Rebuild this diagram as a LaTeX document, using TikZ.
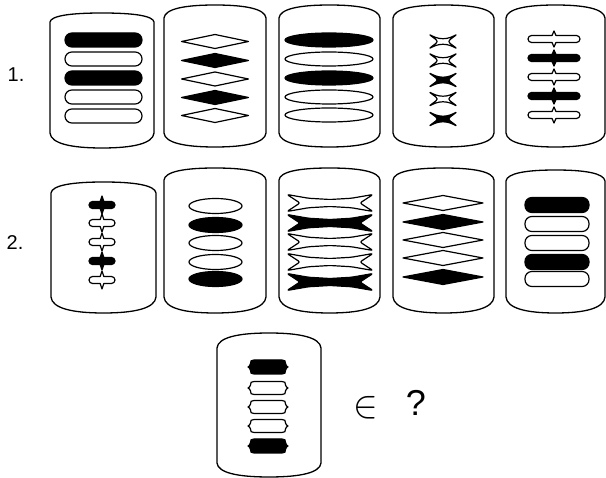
\documentclass[tikz,border=0pt]{standalone}
\usepackage{fontspec}
\setmainfont{Liberation Sans}
\tikzset{
  cardline/.style={draw=black, line width=1.3pt, fill=white},
  shp/.style={draw=black, line width=1.2pt, line join=round},
  lbl/.style={inner sep=0pt, font=\fontsize{20}{22}\selectfont}
}
% card: x1 x2 ytop ys1 ys2 ybot
\newcommand\card[6]{%
  \draw[cardline] (#1,#4) .. controls (#1+1,{#4-0.7*(#4-#3)}) and ({#1+0.2*(#2-#1)},#3) .. ({(#1+#2)/2},#3)
   .. controls ({#2-0.2*(#2-#1)},#3) and (#2-1,{#4-0.7*(#4-#3)}) .. (#2,#4)
   -- (#2,#5) .. controls (#2-1,{#5+0.7*(#6-#5)}) and ({#2-0.2*(#2-#1)},#6) .. ({(#1+#2)/2},#6)
   .. controls ({#1+0.2*(#2-#1)},#6) and (#1+1,{#5+0.7*(#6-#5)}) .. (#1,#5) -- cycle;}
% stadium: cx cy w h fill
\newcommand\stad[5]{%
  \draw[shp,fill=#5,rounded corners=6.9pt] ({#1-#3/2},{#2-#4/2}) rectangle ({#1+#3/2},{#2+#4/2});}
% diamond: cx cy w h fill
\newcommand\dia[5]{%
  \draw[shp,fill=#5] ({#1-#3/2},#2) -- (#1,{#2-#4/2}) -- ({#1+#3/2},#2) -- (#1,{#2+#4/2}) -- cycle;}
% ellipse: cx cy w h fill
\newcommand\ovl[5]{%
  \draw[shp,fill=#5] (#1,#2) ellipse [x radius={#3/2}, y radius={#4/2}];}
% X shape: cx cy w h t d fill radius
\newcommand\xsh[8]{%
  \draw[shp,fill=#7,rounded corners=#8pt] ({#1-#3/2},{#2-#4/2})
   -- ({#1-#3/4},{#2-#4/2+0.75*#5}) -- (#1,{#2-#4/2+#5}) -- ({#1+#3/4},{#2-#4/2+0.75*#5})
   -- ({#1+#3/2},{#2-#4/2}) -- ({#1+#3/2-#6},#2) -- ({#1+#3/2},{#2+#4/2})
   -- ({#1+#3/4},{#2+#4/2-0.75*#5}) -- (#1,{#2+#4/2-#5}) -- ({#1-#3/4},{#2+#4/2-0.75*#5})
   -- ({#1-#3/2},{#2+#4/2}) -- ({#1-#3/2+#6},#2) -- cycle;}
% bar with diamond: cx cy w h a H fill
\newcommand\bdia[7]{%
  \pgfmathsetmacro\rr{#4/2}%
  \pgfmathsetmacro\xl{#1-#3/2+\rr}%
  \pgfmathsetmacro\xr{#1+#3/2-\rr}%
  \pgfmathsetmacro\ap{#5*(1-\rr/#6)}%
  \draw[shp,fill=#7] (\xl,{#2-\rr}) -- ({#1-\ap},{#2-\rr}) -- (#1,{#2-#6}) -- ({#1+\ap},{#2-\rr}) -- (\xr,{#2-\rr})
   .. controls ({\xr+0.552*\rr},{#2-\rr}) and ({\xr+\rr},{#2-0.552*\rr}) .. ({\xr+\rr},#2)
   .. controls ({\xr+\rr},{#2+0.552*\rr}) and ({\xr+0.552*\rr},{#2+\rr}) .. (\xr,{#2+\rr})
   -- ({#1+\ap},{#2+\rr}) -- (#1,{#2+#6}) -- ({#1-\ap},{#2+\rr}) -- (\xl,{#2+\rr})
   .. controls ({\xl-0.552*\rr},{#2+\rr}) and ({\xl-\rr},{#2+0.552*\rr}) .. ({\xl-\rr},#2)
   .. controls ({\xl-\rr},{#2-0.552*\rr}) and ({\xl-0.552*\rr},{#2-\rr}) .. cycle;}
% plaque: cx cy w h fill
\newcommand\plq[5]{%
  \pgfmathsetmacro\xR{#1+#3/2}%
  \pgfmathsetmacro\xL{#1-#3/2}%
  \pgfmathsetmacro\bR{\xR-2.5}%
  \pgfmathsetmacro\bL{\xL+2.5}%
  \pgfmathsetmacro\tp{#2-#4/2}%
  \pgfmathsetmacro\bt{#2+#4/2}%
  \draw[shp,fill=#5] ({\xL+6},\tp) -- ({\xR-6},\tp)
   .. controls ({\bR-0.5},\tp) and (\bR,{\tp+1}) .. (\bR,{\tp+3.5})
   .. controls (\bR,{#2-1.5}) and ({\xR-0.8},{#2-0.4}) .. (\xR,#2)
   .. controls ({\xR-0.8},{#2+0.4}) and (\bR,{#2+1.5}) .. (\bR,{\bt-3.5})
   .. controls (\bR,{\bt-1}) and ({\bR-0.5},\bt) .. ({\xR-6},\bt)
   -- ({\xL+6},\bt)
   .. controls ({\bL+0.5},\bt) and (\bL,{\bt-1}) .. (\bL,{\bt-3.5})
   .. controls (\bL,{#2+1.5}) and ({\xL+0.8},{#2+0.4}) .. (\xL,#2)
   .. controls ({\xL+0.8},{#2-0.4}) and (\bL,{#2-1.5}) .. (\bL,{\tp+3.5})
   .. controls (\bL,{\tp+1}) and ({\bL+0.5},\tp) .. cycle;}
\begin{document}
\begin{tikzpicture}[x=1pt,y=-1pt]
\useasboundingbox (0,0) rectangle (606,478);
% ---------- row 1 ----------
\node[lbl] (l1) at (16,75) {1.};
\card{50}{154}{13}{22}{133}{148}
\stad{103.5}{40}{77}{14}{black}
\stad{103.5}{59}{77}{14}{white}
\stad{103.5}{78}{77}{14}{black}
\stad{103.5}{97}{77}{14}{white}
\stad{103.5}{116}{77}{14}{white}
\card{164}{266}{5}{18}{133}{147}
\dia{215}{41.5}{67}{14}{white}
\dia{215}{60.5}{67}{14}{black}
\dia{215}{79}{67}{14}{white}
\dia{215}{97.5}{67}{14}{black}
\dia{215}{115.5}{67}{14}{white}
\card{279}{380}{5}{18}{133}{147}
\ovl{329}{40}{88}{14}{black}
\ovl{329}{59}{88}{14}{white}
\ovl{329}{78}{88}{14}{black}
\ovl{329}{97}{88}{14}{white}
\ovl{329}{115}{88}{14}{white}
\card{393}{494}{5}{18}{133}{147}
\xsh{443}{41.5}{29}{15}{5}{10}{white}{3}
\xsh{443}{60.5}{29}{15}{5}{10}{white}{3}
\xsh{443}{80}{29}{15}{5}{10}{black}{3}
\xsh{443}{99}{29}{15}{5}{10}{white}{3}
\xsh{443}{119}{29}{15}{5}{10}{black}{3}
\card{506}{605}{5}{18}{133}{147}
\bdia{554}{39}{52}{7}{3.5}{8}{white}
\bdia{554}{58}{52}{7}{3.5}{8}{black}
\bdia{554}{77}{52}{7}{3.5}{8}{white}
\bdia{554}{96}{52}{7}{3.5}{8}{black}
\bdia{554}{115}{52}{7}{3.5}{8}{white}
% ---------- row 2 ----------
\node[lbl] (l2) at (15,243) {2.};
\card{51}{156}{182}{193}{297}{313}
\bdia{102}{205}{26}{7}{3}{9}{black}
\bdia{102}{223}{26}{7}{3}{9}{white}
\bdia{102}{242}{26}{7}{3}{9}{white}
\bdia{102}{261}{26}{7}{3}{9}{black}
\bdia{102}{280}{26}{7}{3}{9}{white}
\card{164}{266}{168}{180}{297}{313}
\ovl{215.5}{206}{53}{15}{white}
\ovl{215.5}{225}{53}{15}{black}
\ovl{215.5}{243}{53}{15}{white}
\ovl{215.5}{262}{53}{15}{white}
\ovl{215.5}{279}{53}{15}{black}
\card{279}{380}{168}{180}{297}{313}
\xsh{330}{203}{86}{17}{5}{13}{white}{2}
\xsh{330}{223}{86}{17}{5}{13}{black}{2}
\xsh{330}{242}{86}{17}{5}{13}{white}{2}
\xsh{330}{262}{86}{17}{5}{13}{white}{2}
\xsh{330}{282}{86}{17}{5}{13}{black}{2}
\card{393}{494}{168}{180}{297}{313}
\dia{443}{203}{80}{15}{white}
\dia{443}{222}{80}{15}{black}
\dia{443}{240}{80}{15}{white}
\dia{443}{258}{80}{15}{white}
\dia{443}{277}{80}{15}{black}
\card{506}{605}{170}{181}{297}{313}
\stad{557}{205}{64}{15}{black}
\stad{557}{224}{64}{15}{white}
\stad{557}{243}{64}{15}{white}
\stad{557}{262}{64}{15}{black}
\stad{557}{279}{64}{15}{white}
% ---------- row 3 ----------
\card{217}{321}{333}{348}{463}{477}
\plq{268}{367}{40}{14}{black}
\plq{268}{388}{40}{13}{white}
\plq{268}{407}{40}{13}{white}
\plq{268}{426}{40}{13}{white}
\plq{268}{446}{40}{14}{black}
\node[inner sep=0pt, xscale=3.7, yscale=3.9] (in) at (366,408) {$\in$};
\node[inner sep=0pt, font=\fontsize{36}{38}\selectfont] (q) at (416,403) {?};
\end{tikzpicture}
\end{document}
